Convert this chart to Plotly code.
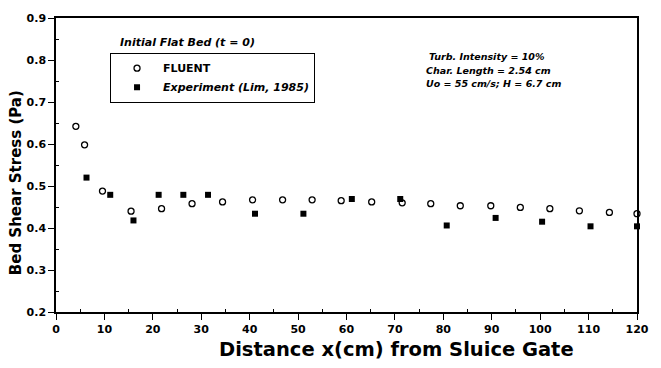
import plotly.graph_objects as go

fluent_x = [4.1, 5.9, 9.6, 15.5, 21.8, 28.1, 34.4, 40.6, 46.8, 52.9, 58.9, 65.2, 71.5, 77.4, 83.5, 89.8, 95.9, 102.0, 108.1, 114.3, 120.0]
fluent_y = [0.642, 0.598, 0.488, 0.440, 0.446, 0.458, 0.462, 0.467, 0.467, 0.467, 0.465, 0.462, 0.460, 0.458, 0.453, 0.453, 0.449, 0.446, 0.441, 0.437, 0.434]

exp_x = [6.3, 11.2, 16.0, 21.2, 26.3, 31.4, 41.1, 51.1, 61.1, 71.1, 80.7, 90.8, 100.4, 110.4, 120.0]
exp_y = [0.520, 0.479, 0.418, 0.479, 0.479, 0.479, 0.434, 0.434, 0.469, 0.469, 0.406, 0.424, 0.415, 0.404, 0.404]

x_ticks = [0, 10, 20, 30, 40, 50, 60, 70, 80, 90, 100, 110, 120]
y_ticks = [0.2, 0.3, 0.4, 0.5, 0.6, 0.7, 0.8, 0.9]

FONT = "DejaVu Sans, Liberation Sans, Arial, sans-serif"

fig = go.Figure()
fig.add_trace(go.Scatter(
    x=fluent_x, y=fluent_y, mode="markers", name="<b>FLUENT</b>",
    marker=dict(symbol="circle-open", size=6, color="black", line=dict(width=1.3, color="black")),
    cliponaxis=False,
))
fig.add_trace(go.Scatter(
    x=exp_x, y=exp_y, mode="markers", name="<b><i>Experiment (Lim, 1985)</i></b>",
    marker=dict(symbol="square", size=6, color="black"),
    cliponaxis=False,
))

fig.update_layout(
    width=661, height=368,
    margin=dict(l=56, r=16, t=13, b=56),
    paper_bgcolor="white", plot_bgcolor="white",
    font=dict(family=FONT, color="black", size=11),
    showlegend=True,
    legend=dict(
        x=0.093, y=0.882, xanchor="left", yanchor="top",
        bordercolor="black", borderwidth=1, bgcolor="white",
        font=dict(size=11, family=FONT),
        tracegroupgap=0, itemwidth=42,
    ),
    xaxis=dict(
        range=[0, 120], tickvals=x_ticks,
        ticktext=[f"<b>{v}</b>" for v in x_ticks],
        showline=True, linecolor="black", linewidth=1.5, mirror=True,
        ticks="outside", ticklen=6, tickwidth=1.2, tickcolor="black",
        minor=dict(tickvals=[v + 5 for v in x_ticks[:-1]], ticks="inside", ticklen=3, tickcolor="black"),
        showgrid=False, zeroline=False,
        tickfont=dict(size=11, family=FONT),
    ),
    yaxis=dict(
        range=[0.2, 0.9], tickvals=y_ticks,
        ticktext=[f"<b>{v:.1f}</b>" for v in y_ticks],
        showline=True, linecolor="black", linewidth=1.5, mirror=True,
        ticks="outside", ticklen=6, tickwidth=1.2, tickcolor="black",
        minor=dict(tickvals=[round(v + 0.05, 2) for v in y_ticks[:-1]], ticks="inside", ticklen=3, tickcolor="black"),
        showgrid=False, zeroline=False,
        tickfont=dict(size=11, family=FONT),
    ),
    annotations=[
        dict(xref="paper", yref="paper", x=0.586, y=-0.127, xanchor="center", yanchor="middle",
             text="<b>Distance x(cm) from Sluice Gate</b>", showarrow=False, font=dict(size=19.5, family=FONT)),
        dict(xref="paper", yref="paper", x=-0.0696, y=0.44, xanchor="center", yanchor="middle",
             textangle=-90, text="<b>Bed Shear Stress (Pa)</b>", showarrow=False, font=dict(size=15, family=FONT)),
        dict(xref="paper", yref="paper", x=0.107, y=0.916, xanchor="left", yanchor="middle",
             text="<b><i>Initial Flat Bed (t = 0)</i></b>", showarrow=False, font=dict(size=11, family=FONT)),
        dict(xref="paper", yref="paper", x=0.638, y=0.869, xanchor="left", yanchor="middle",
             text="<b><i>Turb. Intensity = 10%</i></b>", showarrow=False, font=dict(size=9.5, family=FONT)),
        dict(xref="paper", yref="paper", x=0.633, y=0.823, xanchor="left", yanchor="middle",
             text="<b><i>Char. Length = 2.54 cm</i></b>", showarrow=False, font=dict(size=9.5, family=FONT)),
        dict(xref="paper", yref="paper", x=0.633, y=0.776, xanchor="left", yanchor="middle",
             text="<b><i>Uo = 55 cm/s; H = 6.7 cm</i></b>", showarrow=False, font=dict(size=9.5, family=FONT)),
    ],
)

fig.write_html("out.html")
